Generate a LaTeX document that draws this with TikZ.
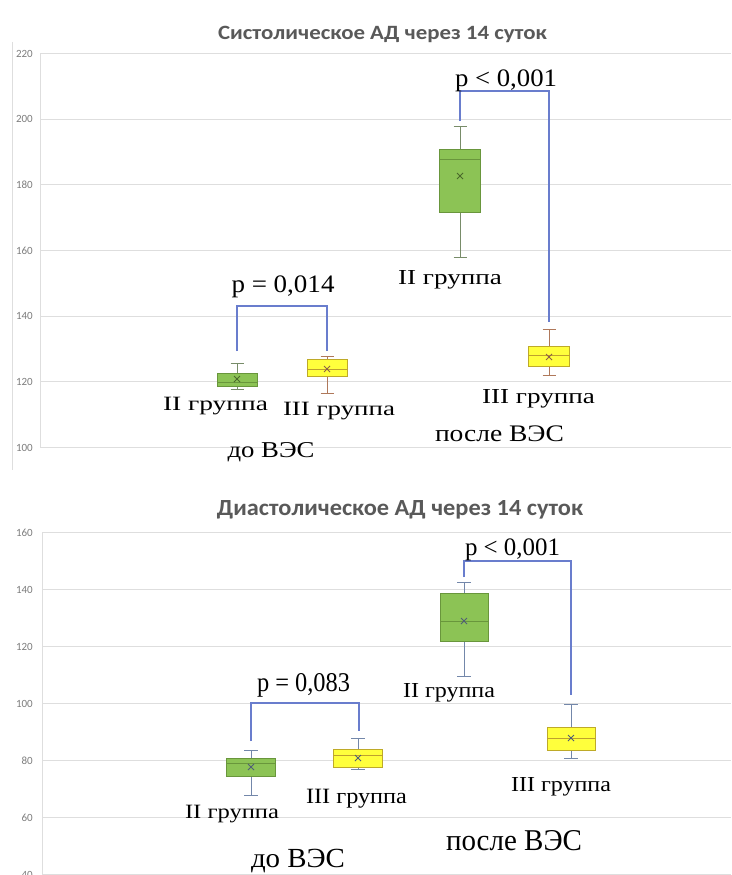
\documentclass[tikz,border=0pt]{standalone}
\usepackage{fontspec}
\usepackage{graphicx}
\setmainfont{Liberation Serif}
\newfontfamily\calib{Carlito}
\definecolor{gridc}{RGB}{222,222,222}
\definecolor{axc}{RGB}{125,125,125}
\definecolor{ttlc}{RGB}{89,89,89}
\definecolor{gfill}{RGB}{140,195,85}
\definecolor{gdraw}{RGB}{105,150,60}
\definecolor{yfill}{RGB}{255,255,60}
\definecolor{ydraw}{RGB}{190,170,40}
\definecolor{brc}{RGB}{105,125,205}
\definecolor{gwc}{RGB}{120,140,105}
\definecolor{ywc}{RGB}{175,120,90}
\definecolor{bwc}{RGB}{115,135,170}
\newcommand\rz[3]{\resizebox{#1pt}{#2pt}{#3}}
\newcommand\capw{6.5}
% #1 style prefix, #2 x, #3 top, #4 bottom, #5 median, #6 whisker top, #7 whisker bottom, #8 mean, #9 half width
\newcommand\bplot[9]{%
  \draw[#1whisk] (#2,#6) -- (#2,#3) (#2,#4) -- (#2,#7)
    (#2-\capw,#6) -- (#2+\capw,#6) (#2-\capw,#7) -- (#2+\capw,#7);
  \filldraw[#1box] (#2-#9,#3) rectangle (#2+#9,#4);
  \draw[#1med] (#2-#9,#5) -- (#2+#9,#5);
  \draw[#1mean] (#2-3,#8-3) -- (#2+3,#8+3) (#2-3,#8+3) -- (#2+3,#8-3);
}
\begin{document}
\begin{tikzpicture}[x=1pt,y=-1pt,
  grid/.style={draw=gridc, line width=0.9pt},
  axlab/.style={anchor=east, inner sep=0pt, text=axc, font=\calib\fontsize{11}{11}\selectfont},
  ttl/.style={anchor=base, inner sep=0pt, text=ttlc, font=\calib\bfseries\fontsize{20}{20}\selectfont},
  lab/.style={anchor=base, inner sep=0pt, text=black, font=\fontsize{24}{24}\selectfont},
  bracket/.style={draw=brc, line width=1.8pt},
  gbox/.style={fill=gfill, draw=gdraw, line width=1pt},
  ybox/.style={fill=yfill, draw=ydraw, line width=1pt},
  gmed/.style={draw=gdraw, line width=1pt},
  ymed/.style={draw=ydraw!80!brown, line width=1pt},
  gwhisk/.style={draw=gwc, line width=1pt},
  ywhisk/.style={draw=ywc, line width=1pt},
  gmean/.style={draw=gdraw!70!black, line width=0.8pt},
  ymean/.style={draw=ywc!80!black, line width=0.8pt}]
\useasboundingbox (0,0) rectangle (731,875);
\clip (0,0) rectangle (731,875);
\fill[white] (0,0) rectangle (731,875);

% ---------- top chart ----------
\draw[grid] (12,42) -- (12,470);
\foreach \v in {100,120,...,220}{
  \pgfmathsetmacro\yy{447.5-(\v-100)*3.283}
  \draw[grid] (40,\yy) -- (731,\yy);
  \node[axlab] (ta\v) at (33,\yy) {\v};
}
\draw[grid] (40,53.5) -- (40,447.5);
\node[ttl] (t1) at (382.5,40) {\rz{329}{13.3}{Систолическое АД через 14 суток}};

\bplot{g}{237}{373}{386}{382}{363}{389}{379}{20}
\bplot{y}{327}{359}{376}{369}{356}{393}{369}{20}
\bplot{g}{460}{149}{212}{159}{126}{257}{176}{20.5}
\bplot{y}{549}{346}{366}{355}{329}{375}{357}{20.5}

\coordinate (b1a) at (237,351);
\coordinate (b1b) at (327,351);
\coordinate (b2a) at (460,121);
\coordinate (b2b) at (549,322);
\draw[bracket] (b1a) -- ++(0,-45) -| (b1b);
\draw[bracket] (b2a) -- ++(0,-30) -| (b2b);

\node[lab] (p1) at (283,292) {\rz{103}{16.7}{p = 0,014}};
\node[lab] (p2) at (506,86) {\rz{102}{16.7}{p < 0,001}};
\node[lab] (g1) at (215.5,410) {\rz{105}{13.3}{II группа}};
\node[lab] (g2) at (339,415) {\rz{112}{13.3}{III группа}};
\node[lab] (d1) at (271,457) {\rz{87}{15}{до ВЭС}};
\node[lab] (g3) at (450,284) {\rz{104}{14}{II группа}};
\node[lab] (g4) at (538.5,403) {\rz{113}{14}{III группа}};
\node[lab] (a1) at (499.5,441) {\rz{129}{15.7}{после ВЭС}};

% ---------- bottom chart ----------
\foreach \v in {40,60,...,160}{
  \pgfmathsetmacro\yy{760.5-(\v-80)*2.85}
  \draw[grid] (42,\yy) -- (731,\yy);
  \node[axlab] (tb\v) at (33,\yy) {\v};
}
\draw[grid] (42,532.5) -- (42,875);
\node[ttl] (t2) at (400,515) {\rz{366}{15}{Диастолическое АД через 14 суток}};

\tikzset{gwhisk/.style={draw=bwc, line width=1pt}, ywhisk/.style={draw=bwc, line width=1pt},
  gmean/.style={draw=bwc!70!black, line width=0.8pt}, ymean/.style={draw=bwc!70!black, line width=0.8pt}}
\renewcommand\capw{7}
\bplot{g}{251}{758}{776}{763}{750}{795}{767}{24.5}
\bplot{y}{358}{749}{767}{755}{738}{769}{758}{24.5}
\bplot{g}{464}{593}{641}{621}{582}{676}{621}{24}
\bplot{y}{571}{727}{750}{738}{704}{758}{738}{24}

\coordinate (b3a) at (251,741);
\coordinate (b3b) at (359,731);
\coordinate (b4a) at (464,577);
\coordinate (b4b) at (571,695);
\draw[bracket] (b3a) -- ++(0,-38) -| (b3b);
\draw[bracket] (b4a) -- ++(0,-16) -| (b4b);

\node[lab] (p3) at (303.5,691) {\rz{93}{18}{p = 0,083}};
\node[lab] (p4) at (512.5,555) {\rz{95}{16.7}{p < 0,001}};
\node[lab] (g5) at (232,818) {\rz{94}{13.3}{II группа}};
\node[lab] (g6) at (356.5,803) {\rz{101}{14.3}{III группа}};
\node[lab] (d2) at (298,867) {\rz{94}{18.3}{до ВЭС}};
\node[lab] (g7) at (449,697) {\rz{92}{14}{II группа}};
\node[lab] (g8) at (561,791) {\rz{100}{14}{III группа}};
\node[lab] (a2) at (514,850) {\rz{136}{20}{после ВЭС}};
\end{tikzpicture}
\end{document}
